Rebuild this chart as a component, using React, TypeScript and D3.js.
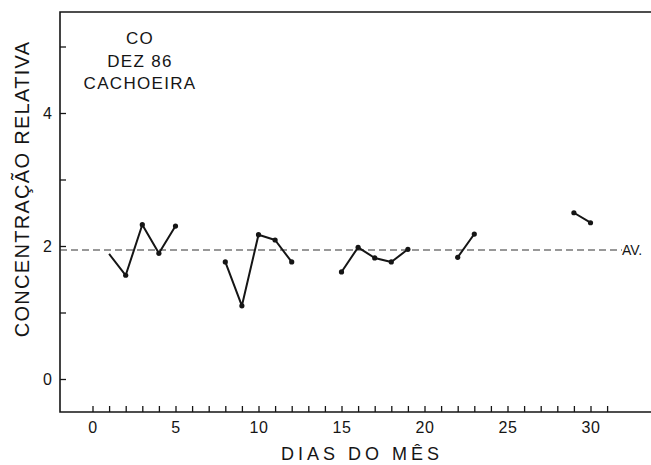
import React, { useRef, useEffect } from 'react';
import * as d3 from 'd3';

// CO relative concentration, Dec 86, Cachoeira (null = no measurement)
const days = [1, 2, 3, 4, 5, 6, 7, 8, 9, 10, 11, 12, 13, 14, 15, 16, 17, 18, 19, 20, 21, 22, 23, 24, 25, 26, 27, 28, 29, 30];
const values: (number | null)[] = [
  1.88, 1.56, 2.32, 1.89, 2.30, null, null, 1.76, 1.10, 2.17,
  2.09, 1.76, null, null, 1.61, 1.98, 1.82, 1.76, 1.95, null,
  null, 1.83, 2.18, null, null, null, null, null, 2.50, 2.35,
];
const unmarkedDays = [1];
const average = 1.94;

const xTicks = [0, 1, 2, 3, 4, 5, 6, 7, 8, 9, 10, 11, 12, 13, 14, 15, 16, 17, 18, 19, 20, 21, 22, 23, 24, 25, 26, 27, 28, 29, 30, 31];
const xLabels = [0, 5, 10, 15, 20, 25, 30];
const yTicks = [0, 1, 2, 3, 4, 5];
const yLabels = [0, 2, 4];
const noteLines = ['CO', 'DEZ 86', 'CACHOEIRA'];

const W = 651;
const H = 465;
const FONT = '"Liberation Sans", Arial, Helvetica, sans-serif';
const INK = '#151515';

export default function App() {
  const svgRef = useRef<SVGSVGElement>(null);

  useEffect(() => {
    const svg = d3.select(svgRef.current);
    svg.selectAll('*').remove();

    const left = 60, top = 12, bottom = 412;

    const x = d3.scaleLinear().domain([0, 30]).range([92.5, 590.5]);
    const y = d3.scaleLinear().domain([0, 4]).range([379, 113]);

    svg.append('rect').attr('width', W).attr('height', H).attr('fill', '#fff');

    // frame: left axis, top line, bottom axis
    svg.append('path')
      .attr('d', `M${W},${top}H${left}V${bottom}H${W}`)
      .attr('fill', 'none').attr('stroke', INK).attr('stroke-width', 1.6);

    // x axis ticks (pointing up)
    const gx = svg.append('g')
      .attr('transform', `translate(0,${bottom})`)
      .call(d3.axisBottom(x).tickValues(xTicks).tickSize(-6).tickPadding(10)
        .tickFormat(d => (xLabels.includes(+d) ? String(d) : '')));
    gx.select('.domain').remove();
    gx.selectAll('line').attr('stroke', INK).attr('stroke-width', 1.3);
    gx.selectAll('text').attr('font-family', FONT).attr('font-size', 16).attr('fill', INK).attr('letter-spacing', 0.5);

    // y axis ticks (pointing right)
    const gy = svg.append('g')
      .attr('transform', `translate(${left},0)`)
      .call(d3.axisLeft(y).tickValues(yTicks).tickSize(-6).tickPadding(8)
        .tickFormat(d => (yLabels.includes(+d) ? String(d) : '')));
    gy.select('.domain').remove();
    gy.selectAll('line').attr('stroke', INK).attr('stroke-width', 1.3);
    gy.selectAll('text').attr('font-family', FONT).attr('font-size', 16).attr('fill', INK);

    // average line
    svg.append('line')
      .attr('x1', left).attr('x2', 622)
      .attr('y1', y(average)).attr('y2', y(average))
      .attr('stroke', '#333').attr('stroke-width', 1.2)
      .attr('stroke-dasharray', '7,4');
    svg.append('text')
      .attr('x', 622).attr('y', y(average) + 5.5)
      .attr('font-family', FONT).attr('font-size', 14).attr('fill', INK)
      .text('AV.');

    // data
    const pts = days.map((d, i) => ({ d, v: values[i] }));
    const line = d3.line<{ d: number; v: number | null }>()
      .defined(p => p.v !== null)
      .x(p => x(p.d))
      .y(p => y(p.v as number));

    svg.append('path')
      .datum(pts)
      .attr('d', line)
      .attr('fill', 'none').attr('stroke', INK).attr('stroke-width', 2)
      .attr('stroke-linejoin', 'round');

    svg.selectAll('.dot')
      .data(pts.filter(p => p.v !== null && !unmarkedDays.includes(p.d)))
      .join('circle')
      .attr('class', 'dot')
      .attr('cx', p => x(p.d))
      .attr('cy', p => y(p.v as number))
      .attr('r', 2.6)
      .attr('fill', INK);

    // annotation
    svg.append('text')
      .attr('font-family', FONT).attr('font-size', 17).attr('fill', INK)
      .attr('text-anchor', 'middle').attr('letter-spacing', 1.3)
      .selectAll('tspan')
      .data(noteLines)
      .join('tspan')
      .attr('x', 140)
      .attr('y', (_, i) => 44 + i * 22.5)
      .text(d => d);

    // axis titles
    svg.append('text')
      .attr('x', 362).attr('y', 460)
      .attr('text-anchor', 'middle')
      .attr('font-family', FONT).attr('font-size', 18).attr('fill', INK)
      .attr('letter-spacing', 4)
      .text('DIAS DO MÊS');

    svg.append('text')
      .attr('transform', 'translate(29,189) rotate(-90)')
      .attr('text-anchor', 'middle')
      .attr('font-family', FONT).attr('font-size', 20).attr('fill', INK)
      .attr('letter-spacing', 1.3)
      .text('CONCENTRAÇÃO RELATIVA');
  }, []);

  return (
    <svg ref={svgRef} width={W} height={H}
      style={{ position: 'absolute', left: 0, top: 0, display: 'block' }} />
  );
}
